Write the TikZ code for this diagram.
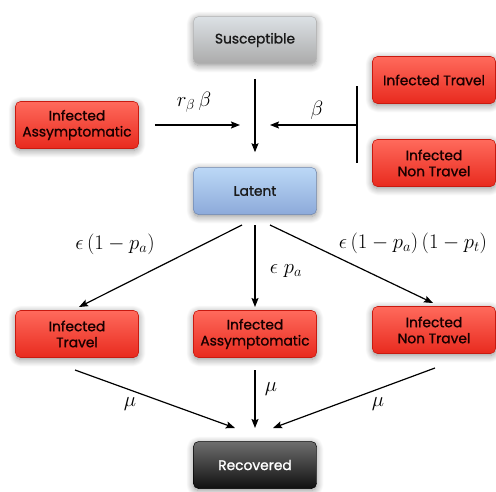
\documentclass[tikz,border=0pt]{standalone}
\usepackage[no-math]{fontspec}
\setmainfont{Poppins}[FakeBold=1.2]
\usetikzlibrary{arrows.meta,shadows.blur,calc}
\definecolor{redtop}{HTML}{FF6A5C}
\definecolor{redbot}{HTML}{E82A1E}
\definecolor{redline}{HTML}{C81A10}
\definecolor{graytop}{HTML}{DCE1E5}
\definecolor{graybot}{HTML}{ABABAB}
\definecolor{bluetop}{HTML}{BCD8F6}
\definecolor{bluebot}{HTML}{8CA9DA}
\definecolor{blktop}{HTML}{6E6E6E}
\definecolor{blkbot}{HTML}{101010}
\begin{document}
\begin{tikzpicture}[x=1pt,y=-1pt,
  box/.style={rounded corners=5pt, minimum width=123pt, minimum height=47pt,
    inner sep=2pt, align=center, font=\fontsize{13.8}{16}\selectfont,
    blur shadow={shadow blur steps=10, shadow xshift=0pt, shadow yshift=-2pt, shadow opacity=45, shadow blur radius=7pt}},
  redbox/.style={box, top color=redtop, bottom color=redbot, draw=redline, line width=0.6pt, text=black!90!red},
  graybox/.style={box, top color=graytop, bottom color=graybot, draw=gray!60, line width=0.5pt, text=black!90},
  bluebox/.style={box, top color=bluetop, bottom color=bluebot, draw=bluebot!80!black, line width=0.5pt, text=black!90},
  blkbox/.style={box, top color=blktop, bottom color=blkbot, draw=black, line width=0.5pt, text=white},
  arr/.style={-{Stealth[length=9pt,width=7pt,inset=1.5pt]}, line width=1.2pt},
  ln/.style={line width=1.2pt},
  lbl/.style={font=\fontsize{19.5}{22}\selectfont, inner sep=0pt}
]
\useasboundingbox (0,0) rectangle (496,491);

\node[graybox] (sus) at (255,40) {Susceptible};
\node[redbox] (ia1) at (77,125) {Infected\\Assymptomatic};
\node[redbox] (it1) at (434,80) {Infected Travel};
\node[redbox] (int1) at (434,163) {Infected\\Non Travel};
\node[bluebox] (lat) at (255,191) {Latent};
\node[redbox] (t2) at (77,334) {Infected\\Travel};
\node[redbox] (a2) at (255,334) {Infected\\Assymptomatic};
\node[redbox] (nt2) at (434,330) {Infected\\Non Travel};
\node[blkbox] (rec) at (255,465) {Recovered};

% top inflows
\coordinate (m) at (255,125);
\coordinate (bartop) at (357,86);
\coordinate (barbot) at (357,163);
\coordinate (barmid) at (357,125);
\draw[arr, shorten <=15pt, shorten >=15pt] (sus.south) -- (lat.north);
\draw[arr, shorten <=16pt, shorten >=15pt] (ia1.east) -- (m);
\draw[ln] (bartop) -- (barbot);
\draw[arr, shorten >=15pt] (barmid) -- (m);
\node[lbl] (lrb) at (194,102) {$r_\beta\,\beta$};
\node[lbl] (lb) at (317,110) {$\beta$};

% latent outflows
\coordinate (o1) at (242,225);
\coordinate (e1) at (79,307);
\coordinate (o2) at (255,225);
\coordinate (e2) at (255,307);
\coordinate (o3) at (270,225);
\coordinate (e3) at (433,303);
\draw[arr] (o1) -- (e1);
\draw[arr] (o2) -- (e2);
\draw[arr] (o3) -- (e3);
\node[lbl] (l1) at (115,244) {$\epsilon\,(1-p_a)$};
\node[lbl] (l2) at (286,271) {$\epsilon\;p_a$};
\node[lbl] (l3) at (413,243) {$\epsilon\,(1-p_a)\,(1-p_t)$};

% recovery
\coordinate (r1) at (75,370);
\coordinate (f1) at (235,428);
\coordinate (r2) at (255,370);
\coordinate (f2) at (255,428);
\coordinate (r3) at (435,368);
\coordinate (f3) at (273,428);
\draw[arr] (r1) -- (f1);
\draw[arr] (r2) -- (f2);
\draw[arr] (r3) -- (f3);
\node[lbl] (m1) at (130,404) {$\mu$};
\node[lbl] (m2) at (271,389) {$\mu$};
\node[lbl] (m3) at (378,404) {$\mu$};
\end{tikzpicture}
\end{document}
